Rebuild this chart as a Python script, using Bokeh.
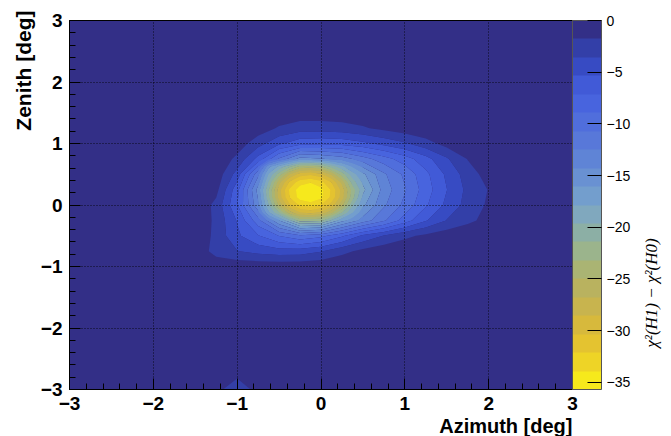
import numpy as np
from bokeh.plotting import figure
from bokeh.layouts import row
from bokeh.models import Range1d, FixedTicker, ColorBar, LinearColorMapper, Title, Label
from bokeh.embed import file_html
from bokeh.resources import INLINE

# ---- data: chi2(H1) - chi2(H0) on an azimuth / zenith grid ----
AZ = [-1.75, -1.5, -1.25, -1.0, -0.75, -0.5, -0.25, 0.0, 0.25, 0.5, 0.75, 1.0, 1.25, 1.5, 1.75, 2.0, 2.25]
ZEN = [-1.25, -1.0, -0.75, -0.5, -0.25, 0.0, 0.25, 0.5, 0.75, 1.0, 1.25, 1.5, 1.75]
ROW_M125 = [-0.1, -0.1, -0.1, -0.1, -0.1, -0.1, -0.1, -0.1, -0.1, -0.1, -0.1, -0.1, -0.1, -0.1, -0.1, -0.1, -0.1]
ROW_M100 = [-0.1, -0.2, -0.4, -0.5, -0.5, -0.5, -0.5, -0.4, -0.3, -0.2, -0.1, -0.1, -0.1, -0.1, -0.1, -0.1, -0.1]
ROW_M075 = [-0.2, -0.3, -2.6, -3.5, -4.2, -4.6, -4.5, -3.7, -2.3, -1.3, -0.6, -0.4, -0.3, -0.2, -0.2, -0.1, -0.1]
ROW_M050 = [-0.2, -0.3, -2.3, -5.0, -7.0, -9.0, -10.3, -9.5, -7.5, -5.0, -3.5, -2.2, -1.4, -0.7, -0.4, -0.3, -0.1]
ROW_M025 = [-0.2, -0.3, -2.2, -5.5, -10.0, -16.0, -22.3, -21.9, -16.8, -13.5, -11.0, -8.0, -5.5, -3.5, -2.2, -1.2, -0.3]
ROW_000 = [-0.2, -0.3, -2.3, -7.0, -13.9, -25.5, -32.5, -32.1, -25.6, -16.5, -12.8, -10.2, -7.4, -4.9, -2.9, -1.5, -0.4]
ROW_P025 = [-0.2, -0.3, -1.2, -6.5, -15.0, -27.8, -34.9, -34.5, -27.9, -18.4, -13.5, -10.9, -8.0, -5.4, -3.1, -1.7, -0.4]
ROW_P050 = [-0.2, -0.3, -0.6, -4.3, -12.0, -22.3, -29.4, -29.0, -22.4, -16.5, -12.8, -10.3, -7.6, -5.0, -2.7, -1.0, -0.3]
ROW_P075 = [-0.1, -0.2, -0.5, -2.2, -6.0, -11.0, -15.0, -14.5, -13.5, -11.5, -9.7, -8.0, -6.0, -3.8, -1.7, -0.5, -0.2]
ROW_P100 = [-0.1, -0.2, -0.3, -0.8, -2.8, -5.0, -6.5, -6.7, -6.5, -5.8, -4.8, -3.8, -2.5, -1.1, -0.4, -0.2, -0.1]
ROW_P125 = [-0.1, -0.1, -0.1, -0.2, -0.8, -2.0, -2.7, -2.7, -2.5, -2.0, -1.3, -0.7, -0.3, -0.2, -0.1, -0.1, -0.1]
ROW_P150 = [-0.1, -0.1, -0.1, -0.1, -0.2, -0.4, -0.7, -0.7, -0.6, -0.4, -0.2, -0.1, -0.1, -0.1, -0.1, -0.1, -0.1]
ROW_P175 = [-0.1, -0.1, -0.1, -0.1, -0.1, -0.1, -0.1, -0.1, -0.1, -0.1, -0.1, -0.1, -0.1, -0.1, -0.1, -0.1, -0.1]

# finer reading of the central peak region
FINE_AZ = [-0.75, -0.625, -0.5, -0.375, -0.25, -0.125, 0.0, 0.125, 0.25, 0.375, 0.5]
FINE_ZEN = [-0.25, -0.125, 0.0, 0.125, 0.25, 0.375, 0.5, 0.625, 0.75]
FINE_M0250 = [-10.0, -13.0, -16.0, -19.2, -22.3, -22.1, -21.9, -19.4, -16.8, -15.2, -13.5]
FINE_M0125 = [-12.0, -17.5, -21.3, -25.9, -28.4, -29.0, -28.0, -25.4, -21.4, -18.0, -15.0]
FINE_P0000 = [-13.9, -19.5, -25.5, -30.0, -32.5, -33.1, -32.1, -29.6, -25.6, -20.0, -16.5]
FINE_P0125 = [-14.5, -21.1, -27.6, -32.2, -34.7, -35.3, -34.3, -31.7, -27.7, -22.2, -17.5]
FINE_P0250 = [-15.0, -21.3, -27.8, -32.4, -34.9, -35.5, -34.5, -31.9, -27.9, -22.4, -18.4]
FINE_P0375 = [-13.5, -19.8, -26.1, -30.6, -33.1, -33.7, -32.7, -30.2, -26.2, -20.6, -17.5]
FINE_P0500 = [-12.0, -18.0, -22.3, -26.8, -29.4, -30.0, -29.0, -26.4, -22.4, -18.5, -16.5]
FINE_P0625 = [-9.0, -15.5, -18.3, -21.1, -23.7, -24.3, -23.3, -20.7, -18.4, -15.9, -14.0]
FINE_P0750 = [-6.0, -8.5, -11.0, -13.0, -15.0, -14.8, -14.5, -14.0, -13.5, -12.5, -11.5]

# small spot at the bottom edge
SPOT_AZ = [-1.5, -1.25, -1.0, -0.75, -0.5]
SPOT_ZEN = [-3.0, -2.75, -2.5]
SPOT_ROW_M300 = [-0.3, -1.2, -3.0, -1.1, -0.3]
SPOT_ROW_M275 = [-0.2, -0.8, -1.3, -0.8, -0.2]
SPOT_ROW_M250 = [-0.1, -0.1, -0.1, -0.1, -0.1]

Z_MIN = -35.7
Z_MAX = 0.0
N_BANDS = 20
AXIS_TICKS = [-3, -2, -1, 0, 1, 2, 3]
CBAR_TICKS = [-35, -30, -25, -20, -15, -10, -5, 0]
Z_TITLE = "\u03c7\u00b2(H1) \u2212 \u03c7\u00b2(H0)"

# colours of the 20 bands, from the lowest value (yellow) to the highest (navy)
PALETTE = [
    "#f6e91c", "#eed426", "#e4c330", "#d7b93c", "#c8b44e",
    "#b9b25f", "#aab473", "#9bb48c", "#8cafa5", "#80a8be",
    "#739ecd", "#6991d2", "#5f84d6", "#5878d9", "#506edc",
    "#4864de", "#415ad7", "#374bc3", "#333fa8", "#332f87",
]

chi2 = np.array([ROW_M125, ROW_M100, ROW_M075, ROW_M050, ROW_M025, ROW_000, ROW_P025,
                 ROW_P050, ROW_P075, ROW_P100, ROW_P125, ROW_P150, ROW_P175])
fine = np.array([FINE_M0250, FINE_M0125, FINE_P0000, FINE_P0125, FINE_P0250,
                 FINE_P0375, FINE_P0500, FINE_P0625, FINE_P0750])
spot = np.array([SPOT_ROW_M300, SPOT_ROW_M275, SPOT_ROW_M250])
levels = list(np.linspace(Z_MIN, Z_MAX, N_BANDS + 1))


def minus(v):
    return str(v).replace("-", "\u2212")


p = figure(width=640, height=436, x_range=Range1d(-3, 3), y_range=Range1d(-3, 3),
           output_backend="svg", toolbar_location=None,
           min_border_left=69, min_border_right=68, min_border_top=20, min_border_bottom=45,
           background_fill_color=PALETTE[-1], border_fill_color="white",
           outline_line_color="black", outline_line_width=1)

fill_levels = levels[:-1]
p.contour(np.array(AZ), np.array(ZEN), chi2, levels=fill_levels, fill_color=PALETTE[:-1])
p.contour(np.array(FINE_AZ), np.array(FINE_ZEN), fine, levels=fill_levels, fill_color=PALETTE[:-1])
p.contour(np.array(SPOT_AZ), np.array(SPOT_ZEN), spot, levels=fill_levels, fill_color=PALETTE[:-1])

minor = [round(-3 + 0.2 * k, 1) for k in range(31)]
for ax in (p.xaxis[0], p.yaxis[0]):
    ax.ticker = FixedTicker(ticks=AXIS_TICKS, minor_ticks=minor)
    ax.major_label_overrides = {t: minus(t) for t in AXIS_TICKS}
    ax.major_tick_in = 11
    ax.major_tick_out = 0
    ax.minor_tick_in = 6
    ax.minor_tick_out = 0
    ax.major_tick_line_color = "black"
    ax.minor_tick_line_color = "black"
    ax.axis_line_color = "black"
    ax.major_label_text_font = "Liberation Sans"
    ax.major_label_text_font_style = "bold"
    ax.major_label_text_font_size = "19px"
    ax.major_label_text_color = "black"
    ax.major_label_standoff = 7

for g in (p.xgrid[0], p.ygrid[0]):
    g.grid_line_color = "black"
    g.grid_line_dash = "1 2"
    g.grid_line_width = 1
    g.grid_line_alpha = 0.8
    g.level = "overlay"

mapper = LinearColorMapper(palette=PALETTE, low=Z_MIN, high=Z_MAX)
cb = ColorBar(color_mapper=mapper, ticker=FixedTicker(ticks=CBAR_TICKS),
              major_label_overrides={t: minus(t) for t in CBAR_TICKS},
              width=29, padding=0, margin=3, label_standoff=5,
              major_tick_in=14, major_tick_out=0, major_tick_line_color="black",
              minor_tick_in=0, minor_tick_out=0,
              major_label_text_font="Liberation Sans", major_label_text_font_size="14px",
              major_label_text_color="black",
              bar_line_color="#555555", border_line_color=None, background_fill_alpha=0)
p.add_layout(cb, "right")

p.add_layout(Title(text="Azimuth [deg]", align="right", standoff=0, text_font="Liberation Sans",
                   text_font_style="bold", text_font_size="20px", text_color="black"), "below")
p.add_layout(Title(text="Zenith [deg]", align="right", standoff=5, offset=-10,
                   text_font="Liberation Sans", text_font_style="bold", text_font_size="21px",
                   text_color="black"), "left")

# narrow strip at the right holding the colour-bar title (reads bottom to top)
q = figure(width=31, height=436, x_range=Range1d(0, 31), y_range=Range1d(0, 436),
           output_backend="svg", toolbar_location=None,
           x_axis_location=None, y_axis_location=None,
           min_border_left=0, min_border_right=0, min_border_top=0, min_border_bottom=0,
           outline_line_color=None, background_fill_color="white", border_fill_color="white")
q.grid.visible = False
q.add_layout(Label(x=11, y=114, text=Z_TITLE, angle=np.pi / 2, text_align="center",
                   text_baseline="middle", text_font="Liberation Serif", text_font_style="italic",
                   text_font_size="17px", text_color="black"))

layout = row(p, q)
open("out.html", "w").write(file_html(layout, INLINE))
